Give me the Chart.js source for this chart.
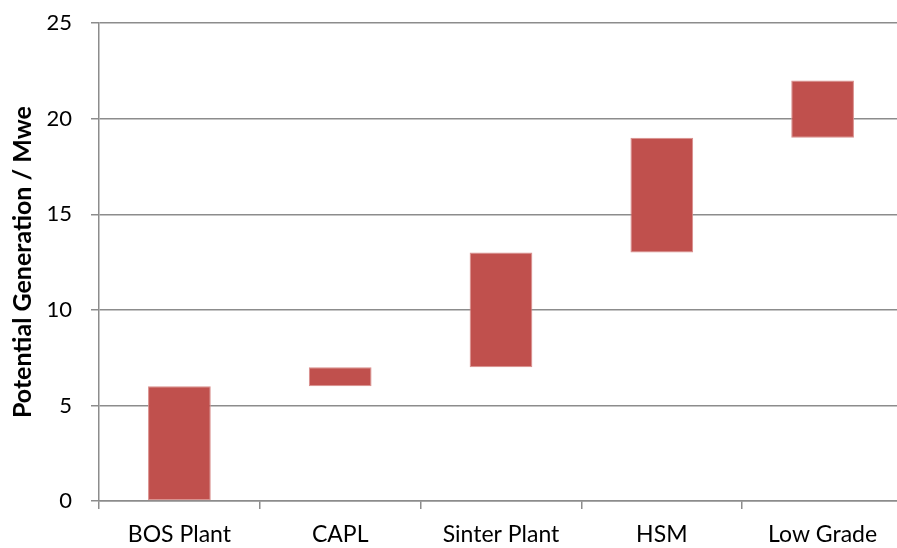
<!DOCTYPE html>
<html>
<head>
<meta charset="utf-8">
<script src="https://cdn.jsdelivr.net/npm/chart.js@4/dist/chart.umd.min.js"></script>
<style>
  html, body { margin: 0; padding: 0; background: #fff; overflow: hidden; }
  #wrap { width: 905px; height: 557px; margin-top: -9px; }
</style>
</head>
<body>
<div id="wrap"><canvas id="myChart" width="905" height="557"></canvas></div>
<script>
const labels = ["BOS Plant", "CAPL", "Sinter Plant", "HSM", "Low Grade"];
const lowValues = [0, 6, 7, 13, 19];
const highValues = [6, 7, 13, 19, 22];
const yTicks = [0, 5, 10, 15, 20, 25];

// floating bars : [bas, haut]
const ranges = labels.map((l, i) => [lowValues[i], highValues[i]]);

const fontFamily = "Lato, 'Open Sans', sans-serif";
const gridGrey = "#8c8c8c";

const config = {
  type: "bar",
  data: {
    labels: labels,
    datasets: [
      {
        label: "Potential Generation",
        data: ranges,
        backgroundColor: "#C0504D",
        borderColor: "#d98e8c",
        borderWidth: 1,
        borderSkipped: false,
        barPercentage: 0.39,
        categoryPercentage: 1,
      },
    ],
  },
  options: {
    responsive: false,
    animation: false,
    layout: { padding: { top: 5, right: 2, left: 0, bottom: 0 } },
    plugins: {
      legend: { display: false },
      tooltip: { enabled: false },
    },
    scales: {
      x: {
        grid: {
          display: true,
          drawOnChartArea: false,
          drawTicks: true,
          tickLength: 8,
          color: gridGrey,
          lineWidth: 1.5,
          offset: true,
        },
        border: { display: true, color: gridGrey, width: 1.5 },
        ticks: {
          color: "#000",
          font: { family: fontFamily, size: 23 },
          padding: 12,
          maxRotation: 0,
        },
        afterFit: (scale) => {
          scale.height = 47;
        },
      },
      y: {
        min: 0,
        max: 25,
        afterBuildTicks: (scale) => {
          scale.ticks = yTicks.map((v) => ({ value: v }));
        },
        grid: {
          color: gridGrey,
          lineWidth: 1.5,
          tickLength: 8,
        },
        border: { display: true, color: gridGrey, width: 1.5 },
        ticks: {
          color: "#000",
          font: { family: fontFamily, size: 22 },
          padding: 19,
        },
        title: {
          display: true,
          text: "Potential Generation / Mwe",
          color: "#000",
          font: { family: fontFamily, size: 25, weight: "bold" },
          padding: { top: 8, bottom: 0 },
        },
        afterFit: (scale) => {
          scale.width = 99;
        },
      },
    },
  },
};

let context = document.getElementById("myChart").getContext("2d");
let chart = new Chart(context, config);
</script>
</body>
</html>
